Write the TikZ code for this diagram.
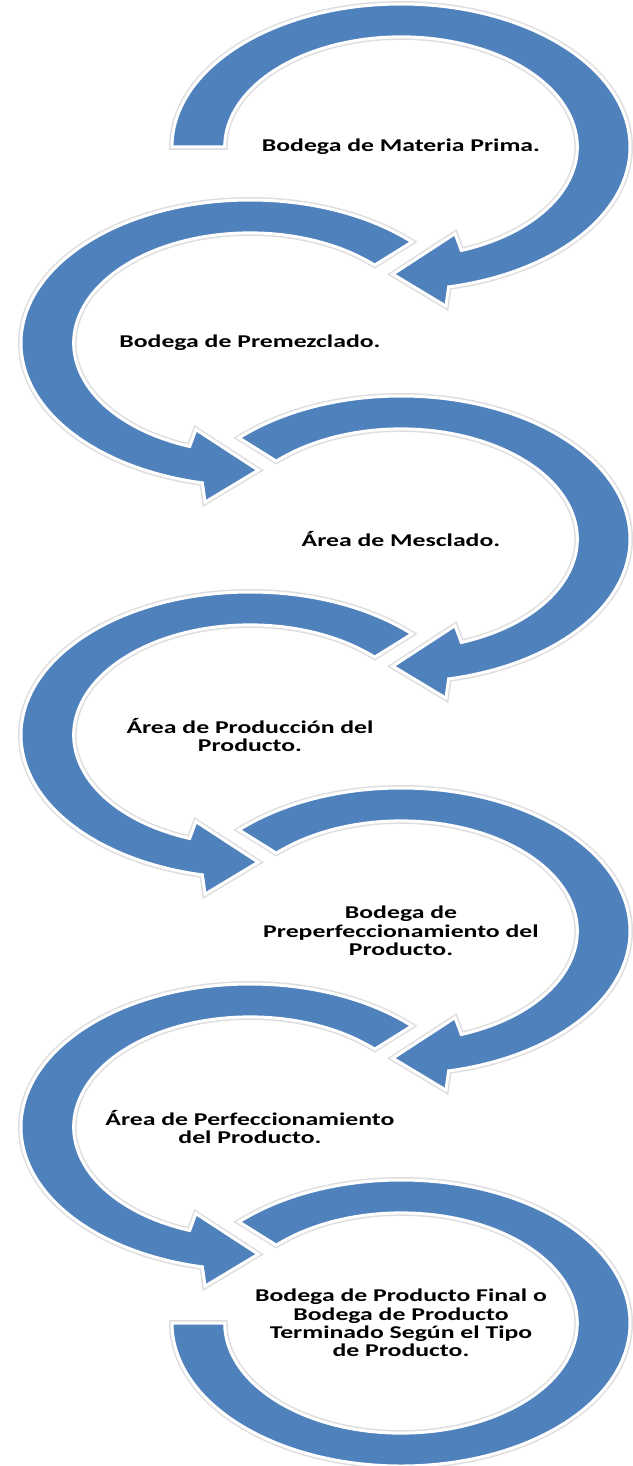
\documentclass[tikz,border=0pt]{standalone}
\usepackage{fontspec}
\setmainfont{Carlito}
\definecolor{arrowblue}{HTML}{4F81BD}
\tikzset{
  halo/.style={draw=black!13, line width=6pt, line join=miter},
  band/.style={fill=arrowblue, draw=white, line width=3pt, line join=miter},
  steptext/.style={font=\fontsize{18}{18.3}\selectfont\bfseries, align=center,
    xscale=1.43, transform shape, inner sep=0pt},
}
% one curved band in a unit frame, stretched to the ellipse of its step
\newcommand\stepband[2]{%
  \begin{scope}[shift={#1}, xscale=229, yscale=143]
    \path[halo] #2;
    \path[band] #2;
  \end{scope}}
% arrow turning clockwise, head at the bottom
\newcommand\headcw{-- (-78:1) -- (-80:1.13) -- (-92.3:0.89) -- (-68.7:0.65) -- (-70:0.77)}
% arrow turning anticlockwise, head at the bottom
\newcommand\headccw{-- (258:1) -- (260:1.13) -- (272.3:0.89) -- (248.7:0.65) -- (250:0.77)}
\begin{document}
\begin{tikzpicture}[x=1pt, y=1pt]
  \useasboundingbox (0,0) rectangle (632,-1466);

  % first step: flat start on the left
  \stepband{(401,-147)}{(180:1) arc[start angle=180, end angle=-78, radius=1]
    -- (-80:1.13) -- (-92.3:0.89) -- (-68.7:0.65) -- (-70:0.77)
    arc[start angle=-70, end angle=180, radius=0.77] -- cycle}
  % left-hand steps
  \foreach \cy in {343,735,1127}{
    \stepband{(250,-\cy)}{(45:1) arc[start angle=45, end angle=258, radius=1]
      -- (260:1.13) -- (272.3:0.89) -- (248.7:0.65) -- (250:0.77)
      arc[start angle=250, end angle=45, radius=0.77] -- cycle}
  }
  % right-hand middle steps
  \foreach \cy in {539,931}{
    \stepband{(401,-\cy)}{(135:1) arc[start angle=135, end angle=-78, radius=1]
      -- (-80:1.13) -- (-92.3:0.89) -- (-68.7:0.65) -- (-70:0.77)
      arc[start angle=-70, end angle=135, radius=0.77] -- cycle}
  }
  % last step: open ring ending flat on the left
  \stepband{(401,-1323)}{(135:1) arc[start angle=135, end angle=-180, radius=1]
    -- (-180:0.77) arc[start angle=-180, end angle=135, radius=0.77] -- cycle}

  % step texts
  \node[steptext] (t1) at (401,-147) {Bodega de Materia Prima.};
  \node[steptext] (t2) at (250,-343) {Bodega de Premezclado.};
  \node[steptext] (t3) at (401,-539) {Área de Mesclado.};
  \node[steptext] (t4) at (250,-735) {Área de Producción del\\Producto.};
  \node[steptext] (t5) at (401,-931) {Bodega de\\Preperfeccionamiento del\\Producto.};
  \node[steptext] (t6) at (250,-1127) {Área de Perfeccionamiento\\del Producto.};
  \node[steptext] (t7) at (401,-1323) {Bodega de Producto Final o\\Bodega de Producto\\Terminado Según el Tipo\\de Producto.};
\end{tikzpicture}
\end{document}
